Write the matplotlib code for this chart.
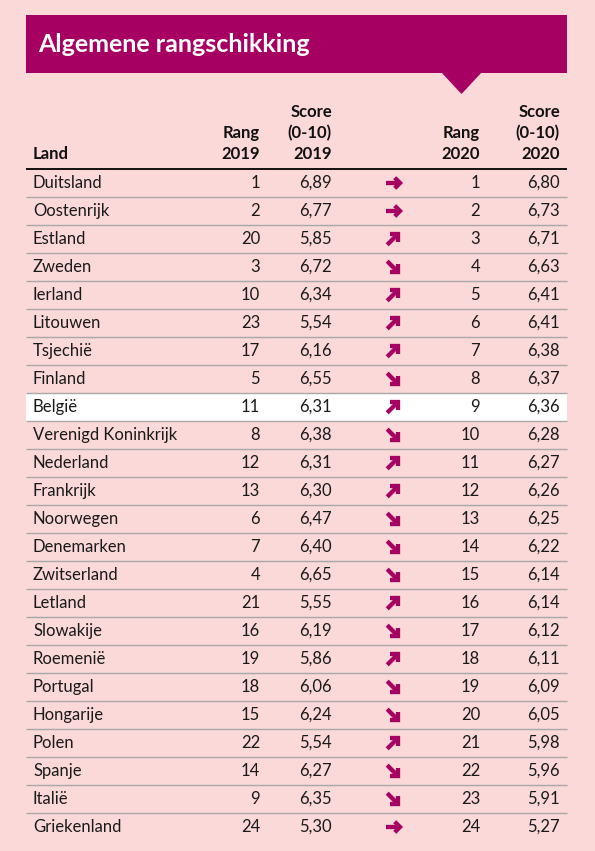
import matplotlib
matplotlib.use("Agg")
import numpy as np
import matplotlib.pyplot as plt
from matplotlib.patches import Rectangle, Polygon

title = "Algemene rangschikking"
countries = ["Duitsland", "Oostenrijk", "Estland", "Zweden", "Ierland", "Litouwen",
             "Tsjechië", "Finland", "België", "Verenigd Koninkrijk", "Nederland",
             "Frankrijk", "Noorwegen", "Denemarken", "Zwitserland", "Letland",
             "Slowakije", "Roemenië", "Portugal", "Hongarije", "Polen", "Spanje",
             "Italië", "Griekenland"]
rank_2019 = [1, 2, 20, 3, 10, 23, 17, 5, 11, 8, 12, 13, 6, 7, 4, 21, 16, 19, 18, 15, 22, 14, 9, 24]
score_2019 = [6.89, 6.77, 5.85, 6.72, 6.34, 5.54, 6.16, 6.55, 6.31, 6.38, 6.31, 6.30,
              6.47, 6.40, 6.65, 5.55, 6.19, 5.86, 6.06, 6.24, 5.54, 6.27, 6.35, 5.30]
rank_2020 = list(range(1, 25))
score_2020 = [6.80, 6.73, 6.71, 6.63, 6.41, 6.41, 6.38, 6.37, 6.36, 6.28, 6.27, 6.26,
              6.25, 6.22, 6.14, 6.14, 6.12, 6.11, 6.09, 6.05, 5.98, 5.96, 5.91, 5.27]
highlight = "België"
headers = ["Land", "Rang\n2019", "Score\n(0-10)\n2019", "Rang\n2020", "Score\n(0-10)\n2020"]

BG = "#FCD9D9"
MAG = "#A50062"
W, H = 595, 851

fig = plt.figure(figsize=(W / 100, H / 100), dpi=100, facecolor=BG)
ax = fig.add_axes([0, 0, 1, 1])
ax.set_xlim(0, W)
ax.set_ylim(H, 0)
ax.axis("off")
ax.set_facecolor(BG)

FONT = "Lato"
x0, x1 = 26, 567

# title banner
ax.add_patch(Rectangle((x0, 15), x1 - x0, 58, facecolor=MAG, edgecolor="none"))
ax.add_patch(Polygon([(441, 72), (482, 72), (461.5, 94)], closed=True, facecolor=MAG, edgecolor="none"))
ax.text(38, 45, title, color="white", fontsize=18, fontweight="bold", family=FONT,
        va="center", ha="left")

# headers
col_x = [33, 260, 332, 480, 560]
col_ha = ["left", "right", "right", "right", "right"]
for hx, ha, htxt in zip(col_x, col_ha, headers):
    ax.text(hx, 162, htxt, ha=ha, va="bottom", fontsize=12, fontweight="bold",
            family=FONT, color="#111111", linespacing=1.35)
ax.plot([x0, x1], [168.5, 168.5], color="black", lw=1.3, solid_capstyle="butt")


def draw_arrow(cx, cy, angle_deg, half_len, head, lw):
    a = np.deg2rad(angle_deg)
    d = np.array([np.cos(a), -np.sin(a)])
    n = np.array([np.sin(a), np.cos(a)])
    c = np.array([cx, cy])
    tip = c + half_len * d
    tail = c - half_len * d
    ax.plot([tail[0], tip[0] - 2.0 * d[0]], [tail[1], tip[1] - 2.0 * d[1]], color=MAG,
            lw=lw, solid_capstyle="butt", zorder=3)
    p1 = tip - head * d + head * n
    p2 = tip - head * d - head * n
    ax.plot([p1[0], tip[0], p2[0]], [p1[1], tip[1], p2[1]], color=MAG, lw=lw,
            solid_joinstyle="miter", solid_capstyle="butt", zorder=3)


row0, step = 183, 28
arrow_x = 393
for i, c in enumerate(countries):
    y = row0 + i * step
    if c == highlight:
        ax.add_patch(Rectangle((x0, y - 14), x1 - x0, 28, facecolor="white", edgecolor="none", zorder=0.5))
    vals = [c, str(rank_2019[i]), f"{score_2019[i]:.2f}".replace(".", ","),
            str(rank_2020[i]), f"{score_2020[i]:.2f}".replace(".", ",")]
    for vx, ha, v in zip(col_x, col_ha, vals):
        ax.text(vx, y, v, ha=ha, va="center", fontsize=12, family=FONT, color="#1a1a1a")
    dr = rank_2019[i] - rank_2020[i]
    if dr == 0:
        draw_arrow(arrow_x, y, 0, 7.0, 5.3, 3.1)
    elif dr > 0:
        draw_arrow(arrow_x - 0.5, y + 0.5, 45, 7.5, 5.3, 3.1)
    else:
        draw_arrow(arrow_x - 0.5, y - 0.5, -45, 7.5, 5.3, 3.1)
    if i < len(countries) - 1:
        ax.plot([x0, x1], [y + 14, y + 14], color="#A8A8A8", lw=1.0, solid_capstyle="butt")

fig.savefig("out.png", dpi=100, facecolor=BG)
